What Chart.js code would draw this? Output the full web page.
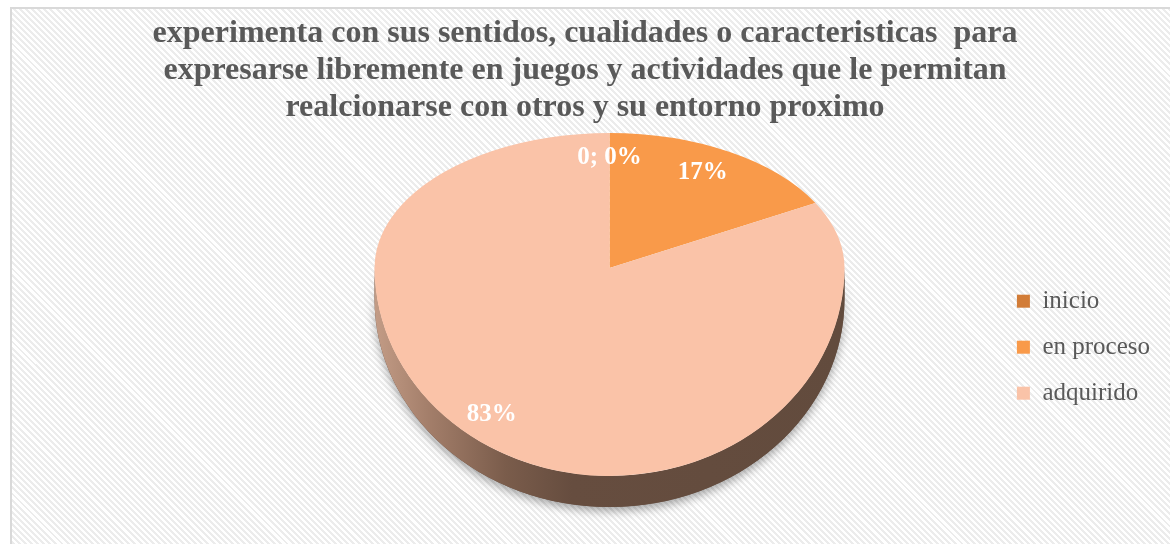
<!DOCTYPE html>
<html><head><meta charset="utf-8">
<script src="https://cdn.jsdelivr.net/npm/chart.js@4.4.1/dist/chart.umd.min.js"></script>
<style>
html,body{margin:0;padding:0;background:#fff;}
#wrap{position:relative;width:1170px;height:544px;overflow:hidden;background:#fff;}
#bg{position:absolute;left:10px;top:7px;width:1170px;height:560px;box-sizing:border-box;border:2px solid #d9d9d9;
 background:repeating-linear-gradient(45deg,#ffffff 0px,#ffffff 2.2px,#ececec 2.2px,#ececec 4.3px);}
canvas{position:absolute;left:0;top:0;}
</style></head>
<body><div id="wrap"><div id="bg"></div><canvas id="c" width="1170" height="544"></canvas></div>
<script>
const titleLines = [
  'experimenta con sus sentidos, cualidades o caracteristicas  para',
  'expresarse libremente en juegos y actividades que le permitan',
  'realcionarse con otros y su entorno proximo'
];
const categories = ['inicio', 'en proceso', 'adquirido'];
const values = [0, 17, 83];
const sliceColors = ['#d27c37', '#f99a4a', '#fac3a8'];
const sideStops = [
  [[0,'#a8653a'],[0.4,'#7a4a2a'],[1,'#6a4026']],
  [[0,'#c07030'],[0.4,'#8f5224'],[1,'#80481f']],
  [[0,'#c39c86'],[0.12,'#a27d69'],[0.28,'#7a5c4b'],[0.42,'#664d3f'],[1,'#624b3d']]
];

const pie3d = {
  id: 'pie3d',
  beforeDatasetsDraw(chart, args, o) {
    const ctx = chart.ctx;
    const arcs = chart.getDatasetMeta(0).data;
    arcs.forEach((arc, i) => {
      const p = arc.getProps(['startAngle', 'endAngle'], true);
      const a = Math.max(p.startAngle, 0), b = Math.min(p.endAngle, Math.PI);
      if (b <= a) return;
      const path = () => {
        ctx.beginPath();
        ctx.ellipse(o.cx, o.cy + o.depth, o.rx, o.ryBottom, 0, a, b);
        ctx.ellipse(o.cx, o.cy, o.rx, o.ryBottom, 0, b, a, true);
        ctx.closePath();
      };
      ctx.save();
      ctx.shadowColor = 'rgba(0,0,0,0.35)';
      ctx.shadowBlur = 10;
      ctx.shadowOffsetY = 4;
      path();
      ctx.fillStyle = sideStops[i][sideStops[i].length - 1][1];
      ctx.fill();
      ctx.restore();
      const g = ctx.createLinearGradient(o.cx - o.rx, 0, o.cx + o.rx, 0);
      sideStops[i].forEach(([s, c]) => g.addColorStop(s, c));
      ctx.save();
      path();
      ctx.fillStyle = g;
      ctx.fill();
      ctx.restore();
    });
    const ref = arcs[0];
    const R = ref.outerRadius;
    [[0, o.cy + 0.5, o.ryTop], [o.cy, chart.height - o.cy, o.ryBottom]].forEach(([y0, h, ry]) => {
      ctx.save();
      ctx.beginPath();
      ctx.rect(0, y0, chart.width, h);
      ctx.clip();
      ctx.translate(o.cx, o.cy);
      ctx.scale(o.rx / R, ry / R);
      ctx.translate(-ref.x, -ref.y);
      arcs.forEach(arc => arc.draw(ctx));
      ctx.restore();
    });
    return false;
  },
  afterDraw(chart, args, o) {
    const ctx = chart.ctx;
    const arcs = chart.getDatasetMeta(0).data;
    const data = chart.data.datasets[0].data;
    const total = data.reduce((s, v) => s + v, 0);
    ctx.save();
    ctx.font = 'bold 25px "Liberation Serif"';
    ctx.fillStyle = '#ffffff';
    ctx.textAlign = 'center';
    ctx.textBaseline = 'middle';
    arcs.forEach((arc, i) => {
      const p = arc.getProps(['startAngle', 'endAngle'], true);
      const mid = (p.startAngle + p.endAngle) / 2;
      const s = Math.sin(mid);
      const x = o.cx + o.rx * o.labelPos * Math.cos(mid) * (s > 0 ? 1.2 : 0.95);
      const y = o.cy + (s < 0 ? o.ryTop : o.ryBottom) * o.labelPos * s;
      const pct = Math.round(data[i] / total * 100);
      const txt = data[i] === 0 ? data[i] + '; ' + pct + '%' : pct + '%';
      ctx.fillText(txt, x, y);
    });
    ctx.restore();
  }
};

new Chart(document.getElementById('c'), {
  type: 'pie',
  data: {
    labels: categories,
    datasets: [{ data: values, backgroundColor: sliceColors, borderWidth: 0 }]
  },
  options: {
    responsive: false,
    devicePixelRatio: 1,
    animation: false,
    layout: { padding: { left: 10, right: 10, top: 0, bottom: 0 } },
    plugins: {
      title: {
        display: true,
        text: titleLines,
        color: '#595959',
        font: { family: '"Liberation Serif"', size: 32, weight: 'bold', lineHeight: 1.16 },
        padding: { top: 15, bottom: 22 }
      },
      legend: {
        position: 'right',
        align: 'center',
        title: { display: true, text: ' ', font: { size: 12, lineHeight: 1.2 }, padding: { top: 136, bottom: 0 } },
        labels: {
          boxWidth: 13, boxHeight: 13, padding: 21,
          color: '#595959',
          font: { family: '"Liberation Serif"', size: 25 }
        }
      },
      tooltip: { enabled: false },
      pie3d: { cx: 609.5, cy: 268, rx: 235, ryTop: 135, ryBottom: 208, depth: 31, labelPos: 0.82 }
    }
  },
  plugins: [pie3d]
});
</script>
</body></html>
